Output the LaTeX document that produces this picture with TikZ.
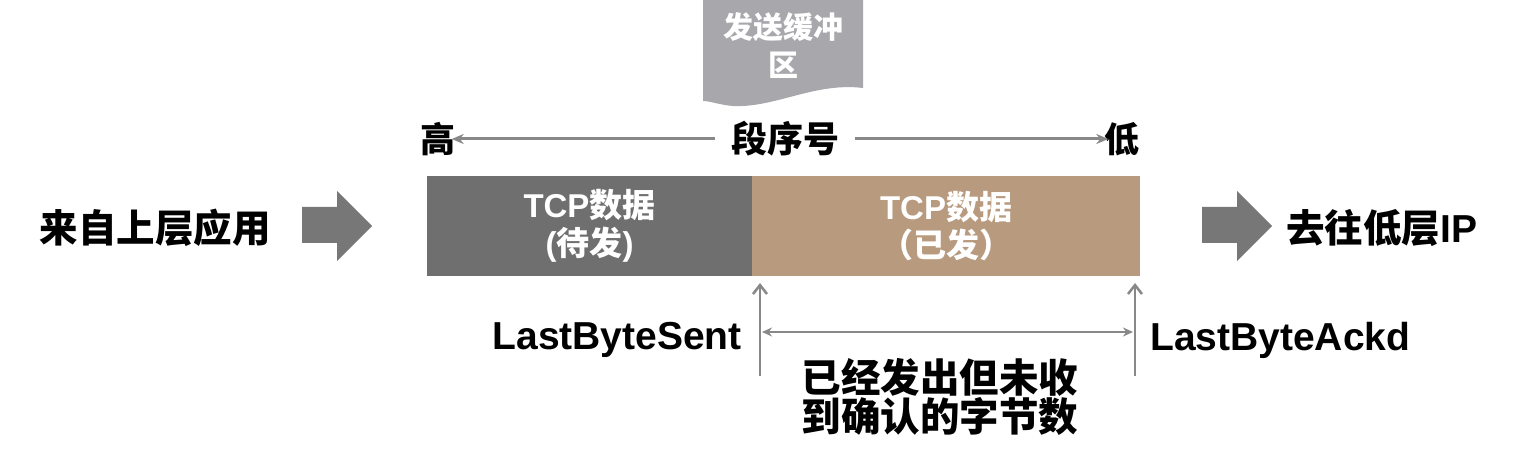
\documentclass[tikz,border=0pt]{standalone}
\usepackage{fontspec}
\setmainfont{Liberation Sans}
\newfontfamily\cjk{Noto Sans CJK SC}
\usetikzlibrary{arrows.meta}
\definecolor{darkbox}{HTML}{6F6F6F}
\definecolor{tanbox}{HTML}{B89A7E}
\definecolor{blockgrey}{HTML}{777777}
\definecolor{linegrey}{HTML}{888888}
\definecolor{flaggrey}{HTML}{A8A8AC}
\begin{document}
\begin{tikzpicture}[x=1pt,y=-1pt,
  big/.style={font=\fontsize{39}{44}\selectfont\bfseries, inner sep=0pt},
  boxtext/.style={font=\fontsize{33}{38}\selectfont\bfseries, text=white, align=center, inner sep=0pt},
  seqarrow/.style={draw=linegrey, line width=3pt, -{Stealth[length=12pt,width=10pt]}},
  markarrow/.style={draw=linegrey, line width=2.5pt, -{Straight Barb[length=9pt,width=14pt]}},
  spanarrow/.style={draw=linegrey, line width=2.5pt, {Stealth[length=10pt,width=9pt]}-{Stealth[length=10pt,width=9pt]}},
  blockarrow/.style={fill=blockgrey, draw=none}]
\useasboundingbox (0,0) rectangle (1534,454);

% send buffer flag
\fill[flaggrey] (703,0) -- (863,0) -- (863,88)
  .. controls (815,82) and (775,108) .. (733,106)
  .. controls (720,105) and (710,101) .. (703,101) -- cycle;
\node[boxtext, font=\fontsize{30}{38}\selectfont\bfseries\cjk] (buf) at (783,46) {发送缓冲\\区};

% sequence number axis
\node[big, font=\fontsize{35}{40}\selectfont\bfseries\cjk] (high) at (438,139) {高};
\node[big, font=\fontsize{36}{40}\selectfont\bfseries\cjk] (seq) at (785,139) {段序号};
\node[big, font=\fontsize{35}{40}\selectfont\bfseries\cjk] (low) at (1122,139) {低};
\draw[seqarrow] ([xshift=-16pt]seq.west) -- ([xshift=-4pt]high.east);
\draw[seqarrow] ([xshift=16pt]seq.east) -- ([xshift=4pt]low.west);

% source and destination
\node[big, font=\fontsize{38.5}{42}\selectfont\bfseries\cjk] (src) at (155,228) {来自上层应用};
\fill[blockarrow] (302,207) -- (337,207) -- (337,191) -- (372,226) -- (337,261) -- (337,243) -- (302,243) -- cycle;
\fill[blockarrow] (1202,207) -- (1237,207) -- (1237,191) -- (1272,226) -- (1237,261) -- (1237,243) -- (1202,243) -- cycle;
\node[big, anchor=west] (dst) at (1286,228) {{\fontsize{38.5}{42}\selectfont\cjk\bfseries 去往低层}IP};

% data boxes
\node[fill=darkbox, minimum width=325pt, minimum height=100pt, inner sep=0pt] (pend) at (589.5,226) {};
\node[fill=tanbox, minimum width=388pt, minimum height=100pt, inner sep=0pt] (sent) at (946,226) {};
\node[boxtext] (pendtxt) at (pend.center) {TCP{\cjk\bfseries 数据}\\({\cjk\bfseries 待发})};
\node[boxtext] (senttxt) at (sent.center) {TCP{\cjk\bfseries 数据}\\{\cjk\bfseries （已发）}};

% pointers
\coordinate (lbsb) at (760,376);
\coordinate (lbst) at (760,283);
\coordinate (lbab) at (1135,376);
\coordinate (lbat) at (1135,283);
\draw[markarrow] (lbsb) -- (lbst);
\draw[markarrow] (lbab) -- (lbat);
\coordinate (spl) at (762,332);
\coordinate (spr) at (1133,332);
\draw[spanarrow] (spl) -- (spr);

\node[big, anchor=east] (lbs) at (742,340) {LastByteSent};
\node[big, anchor=west] (lba) at (1150,340) {LastByteAckd};
\node[big, align=center, font=\fontsize{39.5}{38}\selectfont\bfseries\cjk] (unack) at (940,397) {已经发出但未收\\到确认的字节数};
\end{tikzpicture}
\end{document}
